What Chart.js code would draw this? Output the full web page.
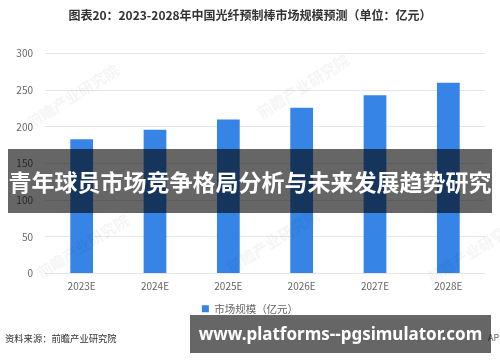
<!DOCTYPE html>
<html lang="zh-CN">
<head>
  <meta charset="UTF-8">
  <title>2023-2028年中国光纤预制棒市场规模预测</title>
  <style>
    body { margin: 0; background: #fff; font-family: 'Noto Sans CJK SC', 'Noto Sans', sans-serif; }
    .wrap { position: relative; width: 500px; height: 362px; overflow: hidden; }
    #chart { position: absolute; left: 0; top: 0; }
    .source { position: absolute; left: 5px; top: 331px; font-size: 9.3px; color: #333; }
    .app { position: absolute; left: 488px; top: 331px; font-size: 9px; color: #666; }
    .mark { position: absolute; font-size: 15px; font-weight: bold; color: rgba(0,0,0,0.045); transform: rotate(-32deg); white-space: nowrap; }
    .banner { position: absolute; left: 8px; top: 149px; width: 484px; height: 64px; background: rgba(0,0,0,0.6);
              color: #fff; font-size: 23px; font-weight: bold; line-height: 64px; text-align: center; white-space: nowrap; }
    .site { position: absolute; left: 190px; top: 315px; width: 301px; height: 38px; background: rgba(0,0,0,0.6);
            color: #fff; font-family: 'Noto Sans', sans-serif; font-size: 17px; font-weight: bold; line-height: 38px;
            text-align: center; white-space: nowrap; }
  </style>
  <script src="https://cdn.jsdelivr.net/npm/chart.js"></script>
</head>
<body>
  <div class="wrap">
    <canvas id="chart" width="500" height="362"></canvas>
    <div class="mark" style="left:20px; top:85px;">前瞻产业研究院</div>
    <div class="mark" style="left:250px; top:75px;">前瞻产业研究院</div>
    <div class="mark" style="left:30px; top:235px;">前瞻产业研究院</div>
    <div class="mark" style="left:220px; top:230px;">前瞻产业研究院</div>
    <div class="mark" style="left:420px; top:240px;">前瞻产业研究院</div>
    <div class="source">资料来源：前瞻产业研究院</div>
    <div class="app">APP</div>
    <div class="banner">青年球员市场竞争格局分析与未来发展趋势研究</div>
    <div class="site">www.platforms--pgsimulator.com</div>
  </div>

  <script>
    // data
    const years = ['2023E', '2024E', '2025E', '2026E', '2027E', '2028E'];
    const marketSize = [183, 196, 210, 226, 243, 260];
    const yTicks = [0, 50, 100, 150, 200, 250, 300];

    const fontFamily = "'Noto Sans CJK SC', 'Noto Sans', sans-serif";

    new Chart(document.getElementById('chart'), {
      type: 'bar',
      data: {
        labels: years,
        datasets: [{
          label: '市场规模（亿元）',
          data: marketSize,
          backgroundColor: '#3584e6',
          borderWidth: 0,
          barPercentage: 0.31,
          categoryPercentage: 1
        }]
      },
      options: {
        responsive: false,
        devicePixelRatio: 1,
        animation: false,
        layout: { padding: { left: 0, right: 0, top: 0, bottom: 38 } },
        scales: {
          x: {
            grid: { display: false, drawTicks: false },
            border: { display: false },
            ticks: { color: '#666', font: { family: fontFamily, size: 10 }, padding: 7 }
          },
          y: {
            min: 0,
            max: 300,
            afterBuildTicks: function(scale) {
              scale.ticks = yTicks.map(v => ({ value: v }));
            },
            afterFit: function(scale) { scale.width = 45; },
            grid: { color: '#e6e6e6', drawTicks: false },
            border: { display: false },
            ticks: { color: '#666', font: { family: fontFamily, size: 10 }, padding: 12 }
          },
          // empty right axis, only keeps 15px free on the right so title/legend stay centred
          yRight: {
            position: 'right',
            grid: { display: false },
            border: { display: false },
            ticks: { display: false },
            afterFit: function(scale) { scale.width = 15; }
          }
        },
        plugins: {
          title: {
            display: true,
            text: '图表20：2023-2028年中国光纤预制棒市场规模预测（单位：亿元）',
            color: '#333',
            font: { family: fontFamily, size: 12, weight: 'bold' },
            padding: { top: 8, bottom: 31 }
          },
          legend: {
            position: 'bottom',
            labels: {
              color: '#666',
              font: { family: fontFamily, size: 10.5 },
              boxWidth: 7,
              boxHeight: 7,
              padding: 4
            }
          },
          tooltip: { enabled: false }
        }
      }
    });
  </script>
</body>
</html>
